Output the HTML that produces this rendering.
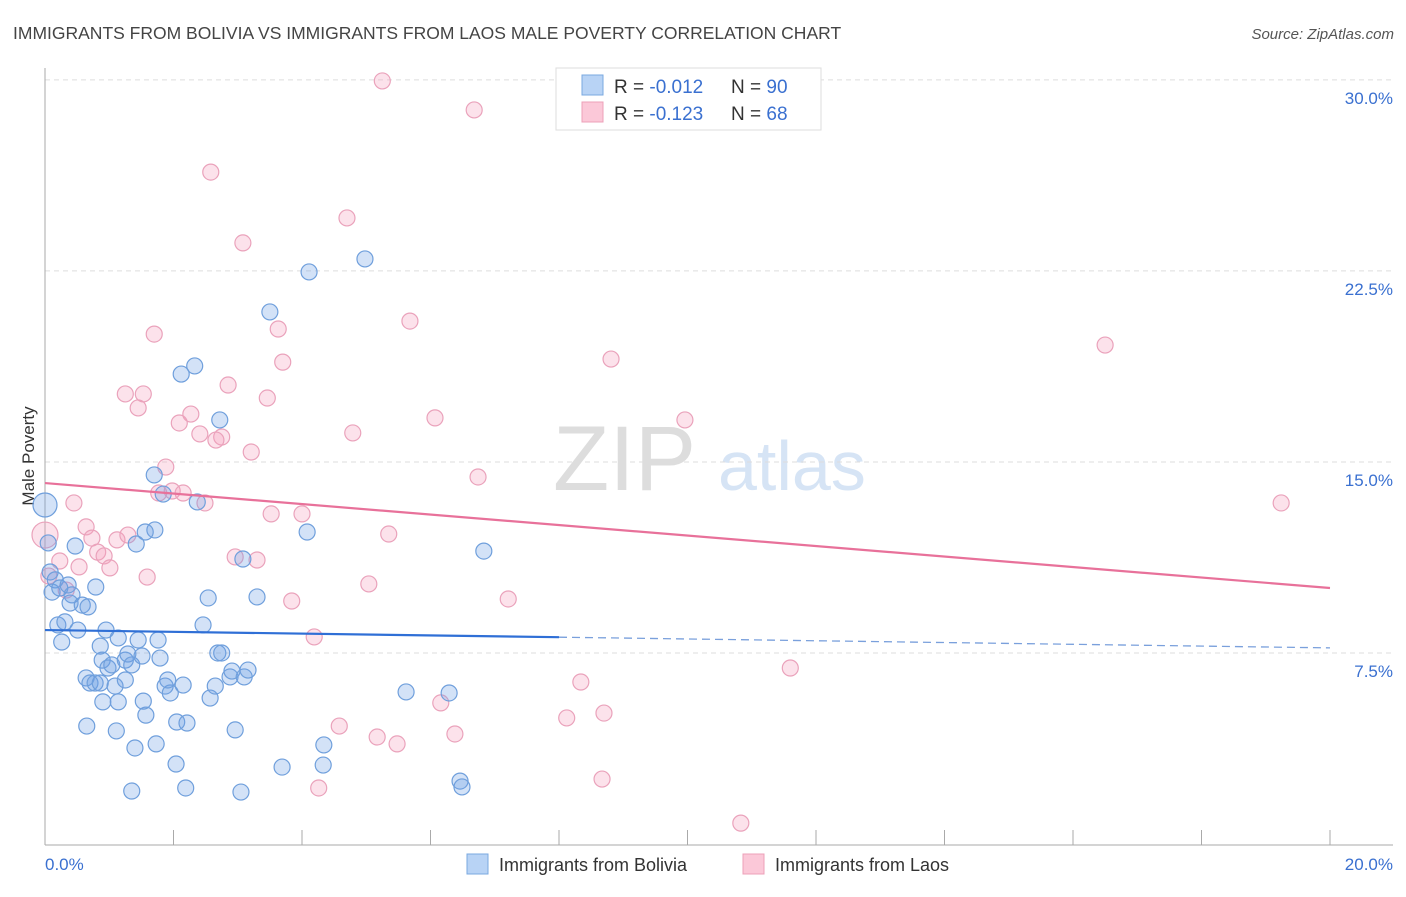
<!DOCTYPE html>
<html><head><meta charset="utf-8"><style>
body{margin:0;background:#fff;font-family:"Liberation Sans",sans-serif}
svg text{font-family:"Liberation Sans",sans-serif}
</style></head><body>
<svg id="chart" width="1406" height="892" xmlns="http://www.w3.org/2000/svg">
<text x="13" y="39" font-size="17.5" fill="#444">IMMIGRANTS FROM BOLIVIA VS IMMIGRANTS FROM LAOS MALE POVERTY CORRELATION CHART</text>
<text x="1394" y="39" font-size="15" fill="#555" text-anchor="end" font-style="italic">Source: ZipAtlas.com</text>
<g>
<text x="553" y="490" font-size="92" fill="#ddd" font-family="Liberation Serif,serif">ZIP</text>
<text x="718" y="490" font-size="70" fill="#d6e4f5">atlas</text>
</g>
<text transform="translate(34,456) rotate(-90)" font-size="17" fill="#333" text-anchor="middle">Male Poverty</text>
<g id="grid"></g>
<g id="axes"></g>
<g id="pts"></g>
<g id="trends"></g>
<g>
<rect x="556" y="68" width="265" height="62" fill="#fff" stroke="#ddd"/>
<rect x="582" y="75" width="21" height="20" fill="#b8d3f5" stroke="#7aa8e0"/>
<rect x="582" y="102" width="21" height="20" fill="#fbc8d8" stroke="#eda0b8"/>
<text x="614" y="93" font-size="19" fill="#333">R = <tspan fill="#3a70d0">-0.012</tspan></text>
<text x="731" y="93" font-size="19" fill="#333">N = <tspan fill="#3a70d0">90</tspan></text>
<text x="614" y="120" font-size="19" fill="#333">R = <tspan fill="#3a70d0"> -0.123</tspan></text>
<text x="731" y="120" font-size="19" fill="#333">N = <tspan fill="#3a70d0"> 68</tspan></text>
</g>
<g>
<rect x="467" y="854" width="21" height="20" fill="#b8d3f5" stroke="#7aa8e0"/>
<text x="499" y="871" font-size="18" fill="#333">Immigrants from Bolivia</text>
<rect x="743" y="854" width="21" height="20" fill="#fbc8d8" stroke="#eda0b8"/>
<text x="775" y="871" font-size="18" fill="#333">Immigrants from Laos</text>
</g>
</svg>
<script>
const yTicks=[7.5,15,22.5,30];
const yTickLabels=["7.5%","15.0%","22.5%","30.0%"];
const xTickLabels=["0.0%","20.0%"];
const bolX=[0,.05,.08,.16,.11,.23,.36,.42,.47,.20,.26,.31,.39,.51,.58,.67,.79,.86,.89,.95,.98,1.04,1.14,1.25,1.29,1.35,1.45,1.51,.64,.70,.78,.86,1.09,1.25,.90,1.14,.65,1.11,1.40,1.57,1.73,1.53,1.79,1.87,1.95,1.91,2.15,2.05,2.21,2.04,2.19,1.35,2.57,2.65,2.69,2.75,2.88,2.91,3.10,3.16,2.96,3.05,2.46,2.54,3.30,3.69,4.34,4.33,5.62,6.29,6.46,6.49,1.71,1.56,1.42,1.70,1.84,2.37,2.12,2.33,2.72,3.50,4.11,4.98,4.08,6.83,3.08,1.76];
const bolY=[13.31,11.82,10.68,10.37,9.89,10.05,10.17,9.78,11.70,8.60,7.93,8.72,9.46,8.40,9.38,9.31,10.09,7.77,7.22,8.40,6.91,7.03,8.09,7.22,7.46,7.03,8.01,7.38,6.52,6.32,6.32,6.32,6.20,6.44,5.58,5.58,4.63,4.44,3.77,5.06,3.93,5.61,7.30,6.20,5.93,6.44,6.24,4.79,4.75,3.14,2.20,2.08,5.73,6.20,7.50,7.50,6.56,6.79,6.56,6.83,4.48,2.04,8.60,9.66,9.70,3.02,3.89,3.10,5.97,5.93,2.47,2.24,12.33,12.25,11.78,14.49,13.74,13.43,18.45,18.77,16.65,20.89,22.46,22.97,12.25,11.50,11.19,8.01];
const laoX=[5.25,6.68,2.58,4.70,3.08,1.70,5.68,3.63,3.70,8.81,16.50,1.25,1.53,2.85,3.46,1.45,2.27,2.09,6.07,9.96,2.41,2.75,2.66,3.21,4.79,1.88,1.77,1.98,2.15,2.49,.45,6.74,19.24,.64,0,.73,1.12,1.29,3.52,4.00,5.35,.82,.92,.23,.53,1.01,1.59,2.96,3.30,.33,5.04,3.84,7.21,4.19,11.60,8.34,8.70,6.16,4.58,5.17,5.48,6.38,8.12,4.26,8.67,10.83,.06];
const laoY=[29.96,28.82,26.38,24.58,23.60,20.02,20.53,20.22,18.92,19.04,19.59,17.67,17.67,18.02,17.51,17.12,16.88,16.53,16.73,16.65,16.10,15.98,15.86,15.39,16.14,14.80,13.78,13.86,13.78,13.39,13.39,14.41,13.39,12.45,12.13,12.01,11.94,12.13,12.96,12.96,12.17,11.46,11.31,11.11,10.88,10.84,10.48,11.27,11.15,9.97,10.21,9.54,9.62,8.13,6.91,6.36,5.14,5.54,4.63,4.20,3.93,4.32,4.95,2.20,2.55,0.82,10.52];
const bolTrend=[8.40,7.70];
const laoTrend=[14.17,10.05];
const NS="http://www.w3.org/2000/svg";
const X=v=>45+v*64.25, Y=v=>844-v*25.47;
function mk(t,a,p){const e=document.createElementNS(NS,t);for(const k in a)e.setAttribute(k,a[k]);p.appendChild(e);return e;}
const grid=document.getElementById('grid');
yTicks.forEach((t,i)=>{
 const l=mk('line',{x1:45,x2:1393,y1:Y(t),y2:Y(t),stroke:'#ddd','stroke-dasharray':'5,4'},grid);
 
 
 const tx=mk('text',{x:1393,y:Y(t)+24,'font-size':17,fill:'#3a70d0','text-anchor':'end'},grid);
 tx.textContent=yTickLabels[i];
 
 
});
const ax=document.getElementById('axes');
const ya=mk('line',{x1:45,x2:45,y1:68,y2:845,stroke:'#aaa'},ax);


const xa=mk('line',{x1:45,x2:1393,y1:845,y2:845,stroke:'#aaa'},ax);


for(let i=0;i<=10;i++){
 const t=mk('line',{x1:X(i*2),x2:X(i*2),y1:830,y2:845,stroke:'#aaa'},ax);
 
 
}
[[0,'start'],[20,'end']].forEach(([v,a],i)=>{
 const t=mk('text',{x:i?1393:45,y:870,'font-size':17,fill:'#3a70d0','text-anchor':a},ax);
 t.textContent=xTickLabels[i];
 
 
});
const pts=document.getElementById('pts');
laoX.forEach((x,i)=>{
 const c=mk('circle',{cx:X(x),cy:Y(laoY[i]),r:(i==34?13:8),fill:'rgba(244,160,190,0.3)',stroke:'#eaa2bb','stroke-width':1.2},pts);
 
 
});
bolX.forEach((x,i)=>{
 const c=mk('circle',{cx:X(x),cy:Y(bolY[i]),r:(i==0?12:8),fill:'rgba(110,160,230,0.3)',stroke:'#6f9fdc','stroke-width':1.2},pts);
 
 
});
const tr=document.getElementById('trends');
const bs=(bolTrend[1]-bolTrend[0])/20;
const b1=mk('line',{x1:X(0),y1:Y(bolTrend[0]),x2:X(8),y2:Y(bolTrend[0]+bs*8),stroke:'#2f6fd6','stroke-width':2.2},tr);


const b2=mk('line',{x1:X(8),y1:Y(bolTrend[0]+bs*8),x2:X(20),y2:Y(bolTrend[1]),stroke:'#7aa0dc','stroke-width':1.3,'stroke-dasharray':'8,5'},tr);


const p1=mk('line',{x1:X(0),y1:Y(laoTrend[0]),x2:X(20),y2:Y(laoTrend[1]),stroke:'#e8719a','stroke-width':2.2},tr);


</script>
</body></html>
